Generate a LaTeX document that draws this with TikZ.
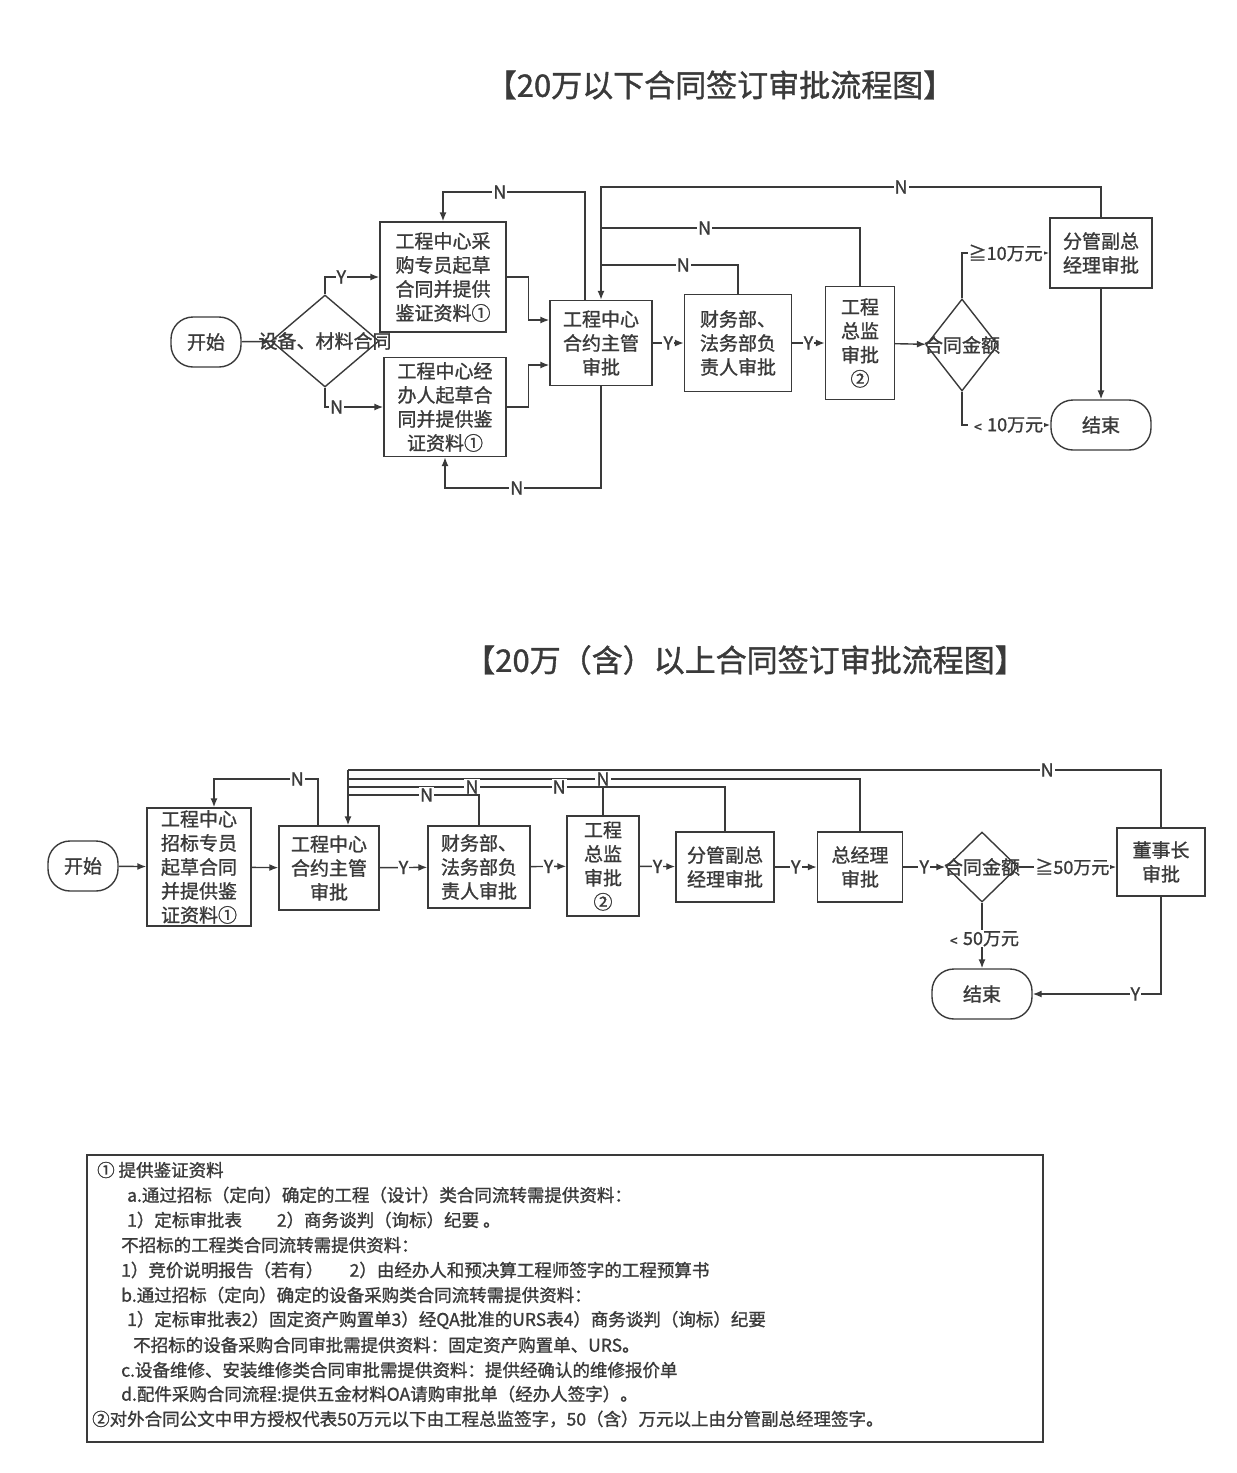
\documentclass[tikz,border=0pt]{standalone}
\usepackage{fontspec}
\setmainfont{Noto Sans CJK SC}[FakeBold=1.2]
\usetikzlibrary{shapes.geometric,arrows.meta}
\definecolor{ln}{HTML}{3A3A3A}
\begin{document}
\begin{tikzpicture}[x=1pt,y=-1pt,
  every node/.style={font=\fontsize{19}{24}\selectfont,text=ln},
  bx/.style={draw=ln,line width=1.4pt,align=center,inner sep=0pt},
  rnd/.style={draw=ln,line width=1.4pt,rounded corners=22pt,minimum width=100pt,minimum height=50pt},
  dia/.style={draw=ln,line width=1.4pt,diamond,inner sep=0pt,align=center},
  lab/.style={fill=white,inner sep=1pt,font=\fontsize{18}{20}\selectfont},
  ar/.style={draw=ln,line width=1.4pt,-{Latex[length=9pt,width=7pt]}},
  ln/.style={draw=ln,line width=1.4pt}]
\useasboundingbox (0,0) rectangle (1237,1473);
\node[font=\fontsize{31}{34}\selectfont] (t1) at (720,85) {【20万以下合同签订审批流程图】};
\node[font=\fontsize{31}{34}\selectfont] (t2) at (745,660) {【20万（含）以上合同签订审批流程图】};
% top diagram
\node[rnd,minimum width=70pt] (s1) at (206,342) {开始};
\node[dia,minimum width=108pt,minimum height=92pt] (d1) at (325,341) {};
\node at (325,341) {设备、材\\[-2pt]料合同};
\node[align=center] at (325,341) {};
\node[bx,minimum width=126pt,minimum height=110pt] (a1) at (443,277) {工程中心采\\购专员起草\\合同并提供\\鉴证资料①};
\node[bx,minimum width=122pt,minimum height=99pt] (b1) at (445,407) {工程中心经\\办人起草合\\同并提供鉴\\证资料①};
\node[bx,minimum width=102pt,minimum height=85pt] (c1) at (601,343) {工程中心\\合约主管\\审批};
\node[bx,minimum width=107pt,minimum height=97pt] (e1) at (738,343) {财务部、\\法务部负\\责人审批};
\node[bx,minimum width=69pt,minimum height=113pt] (z1) at (860,343) {工程\\总监\\审批\\②};
\node[dia,minimum width=72pt,minimum height=92pt] (f1) at (962,345) {};
\node at (962,345) {合同\\[-2pt]金额};
\node[bx,minimum width=102pt,minimum height=70pt] (g1) at (1101,253) {分管副总\\经理审批};
\node[rnd] (h1) at (1101,425) {结束};
\draw[ar] (s1) -- (d1);
\draw[ar] (d1.north) |- node[lab,pos=0.65]{Y} (a1.west);
\draw[ar] (d1.south) |- node[lab,pos=0.6]{N} (b1.west);
\draw[ar] (a1.east) -- ++(22,0) |- (c1.west|-0,320);
\draw[ar] (b1.east) -- ++(22,0) |- (c1.west|-0,365);
\draw[ar] (c1.north-|585,0) |- node[lab,pos=0.8]{N} (443,192) -- (a1.north);
\draw[ar] (c1.south) |- node[lab,pos=0.77]{N} (445,488) -- (b1.south);
\draw[ar] (c1) -- node[lab]{Y} (e1);
\draw[ar] (e1) -- node[lab]{Y} (z1);
\draw[ar] (z1) -- (f1);
\draw[ln] (e1.north) |- node[lab,pos=0.7]{N} (601,265);
\draw[ln] (z1.north) |- node[lab,pos=0.8]{N} (601,228);
\draw[ar] (g1.north) |- node[lab,pos=0.7]{N} (601,187) -- (c1.north);
\draw[ar] (f1.north) |- node[lab,pos=0.75]{≧10万元} (g1.west);
\draw[ar] (f1.south) |- node[lab,pos=0.75]{﹤10万元} (h1.west);
\draw[ar] (g1) -- (h1);
% bottom diagram
\node[rnd,minimum width=70pt] (s2) at (83,866) {开始};
\node[bx,minimum width=104pt,minimum height=118pt] (a2) at (199,867) {工程中心\\招标专员\\起草合同\\并提供鉴\\证资料①};
\node[bx,minimum width=100pt,minimum height=84pt] (c2) at (329,868) {工程中心\\合约主管\\审批};
\node[bx,minimum width=102pt,minimum height=82pt] (e2) at (479,867) {财务部、\\法务部负\\责人审批};
\node[bx,minimum width=72pt,minimum height=100pt] (z2) at (603,866) {工程\\总监\\审批\\②};
\node[bx,minimum width=98pt,minimum height=70pt] (g2) at (725,867) {分管副总\\经理审批};
\node[bx,minimum width=85pt,minimum height=70pt] (k2) at (860,867) {总经理\\审批};
\node[dia,minimum width=72pt,minimum height=70pt] (f2) at (982,867) {};
\node at (982,867) {合同\\[-3pt]金额};
\node[bx,minimum width=88pt,minimum height=68pt] (l2) at (1161,862) {董事长\\审批};
\node[rnd] (h2) at (982,994) {结束};
\draw[ar] (s2) -- (a2);
\draw[ar] (a2) -- (c2);
\draw[ar] (c2) -- node[lab]{Y} (e2);
\draw[ar] (e2) -- node[lab]{Y} (z2);
\draw[ar] (z2) -- node[lab]{Y} (g2);
\draw[ar] (g2) -- node[lab]{Y} (k2);
\draw[ar] (k2) -- node[lab]{Y} (f2);
\draw[ar] (f2) -- node[lab,pos=0.55]{≧50万元} (l2.west|-f2);
\draw[ar] (f2.south) -- node[lab,pos=0.55]{﹤50万元} (h2.north);
\draw[ar] (l2.south) |- node[lab,pos=0.6]{Y} (h2.east);
\draw[ar] (c2.north-|318,0) |- node[lab,pos=0.6]{N} (214,779) -- (a2.north-|214,0);
\draw[ln] (l2.north) |- node[lab,pos=0.57]{N} (348,770);
\draw[ln] (k2.north) |- (348,779);
\draw[ln] (z2.north) -- node[lab,pos=1]{N} (603,779);
\draw[ln] (g2.north) |- node[lab,pos=0.72]{N} (348,787);
\node[lab] at (472,787) {N};
\draw[ln] (e2.north) |- node[lab,pos=0.7]{N} (348,795);
\draw[ar] (348,770) -- (c2.north-|348,0);
% notes
\node[draw=ln,line width=1.2pt,minimum width=956pt,minimum height=287pt,inner sep=0pt] (nb) at (565,1298.5) {};
\begin{scope}[every node/.style={anchor=west,inner sep=0pt,text=ln,font=\fontsize{17.5}{20}\selectfont}]
\node (n1) at (97,1170) {① 提供鉴证资料};
\node (n2) at (127,1195) {a.通过招标（定向）确定的工程（设计）类合同流转需提供资料：};
\node (n3) at (127,1220) {1）定标审批表\hspace{2em}2）商务谈判（询标）纪要 。};
\node (n4) at (121,1245) {不招标的工程类合同流转需提供资料：};
\node (n5) at (121,1270) {1）竞价说明报告（若有）\hspace{1.5em}2）由经办人和预决算工程师签字的工程预算书};
\node (n6) at (121,1295) {b.通过招标（定向）确定的设备采购类合同流转需提供资料：};
\node (n7) at (127,1320) {1）定标审批表2）固定资产购置单3）经QA批准的URS表4）商务谈判（询标）纪要};
\node (n8) at (133,1345) {不招标的设备采购合同审批需提供资料：固定资产购置单、URS。};
\node (n9) at (121,1370) {c.设备维修、安装维修类合同审批需提供资料：提供经确认的维修报价单};
\node (n10) at (121,1394) {d.配件采购合同流程:提供五金材料OA请购审批单（经办人签字）。};
\node (n11) at (92,1419) {②对外合同公文中甲方授权代表50万元以下由工程总监签字，50（含）万元以上由分管副总经理签字。};
\end{scope}
\end{tikzpicture}
\end{document}
